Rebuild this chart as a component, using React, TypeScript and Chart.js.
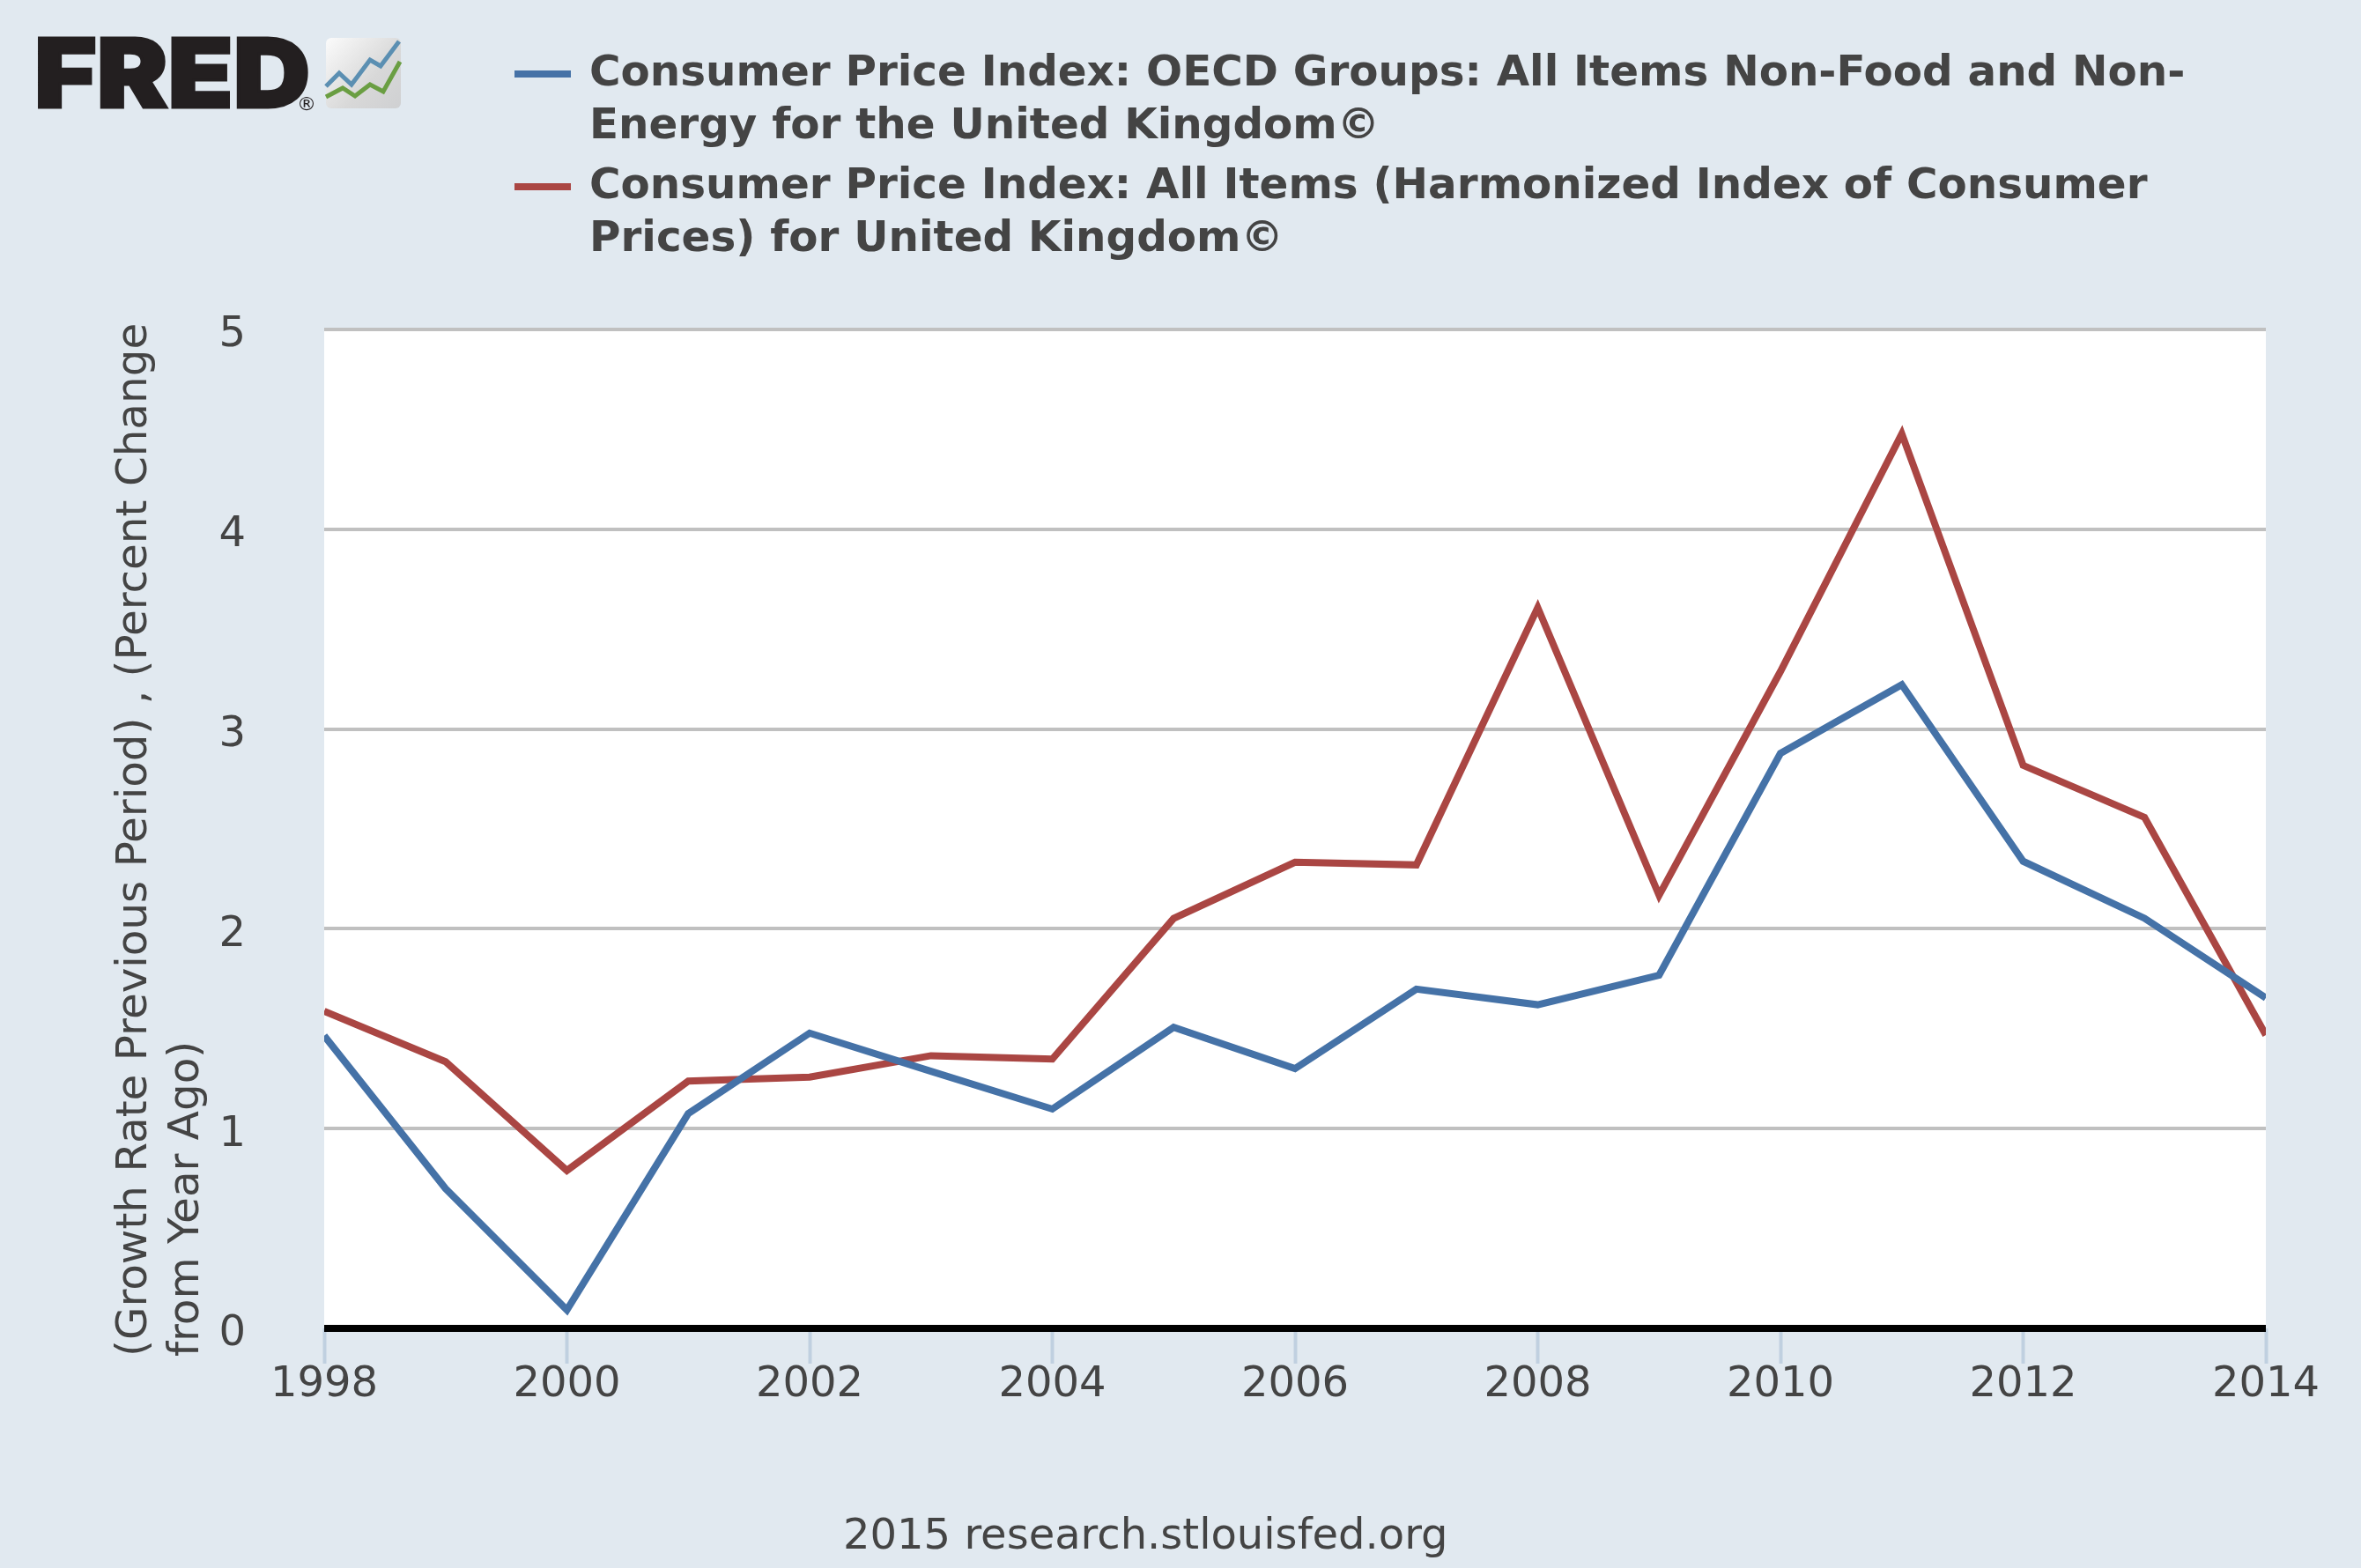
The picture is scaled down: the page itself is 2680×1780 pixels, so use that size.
import React, { useEffect, useRef } from "react";
import { Chart, registerables } from "chart.js";

Chart.register(...registerables);

const years = [1998, 1999, 2000, 2001, 2002, 2003, 2004, 2005, 2006, 2007, 2008, 2009, 2010, 2011, 2012, 2013, 2014];
const coreCpi = [1.465, 0.7, 0.092, 1.075, 1.478, 1.287, 1.098, 1.507, 1.3, 1.698, 1.62, 1.768, 2.878, 3.222, 2.338, 2.053, 1.654];
const hicp = [1.588, 1.335, 0.79, 1.238, 1.258, 1.365, 1.348, 2.052, 2.333, 2.32, 3.608, 2.168, 3.288, 4.478, 2.818, 2.558, 1.468];
const coreLegend = ["Consumer Price Index: OECD Groups: All Items Non-Food and Non-", "Energy for the United Kingdom©"];
const hicpLegend = ["Consumer Price Index: All Items (Harmonized Index of Consumer", "Prices) for United Kingdom©"];
const yTitleLines = ["(Growth Rate Previous Period) , (Percent Change", "from Year Ago)"];
const credit = "2015 research.stlouisfed.org";
const logoText = "FRED";

const BG = "#e1e9f0";
const TEXT = "#444444";
const FONT = "'DejaVu Sans'";

const pagePlugin = {
  id: "page",
  beforeDraw(chart: any) {
    const { ctx, chartArea: a, width, height } = chart;
    ctx.save();
    ctx.fillStyle = BG;
    ctx.fillRect(0, 0, width, height);
    ctx.fillStyle = "#ffffff";
    ctx.fillRect(a.left, a.top, a.right - a.left, a.bottom - a.top);
    ctx.restore();
    // y tick labels sit slightly below their grid lines in the reference
    if (!chart.$labelsShifted) {
      chart.scales.y.getLabelItems().forEach((it: any) => {
        it.options.translation[1] += 7;
      });
      chart.$labelsShifted = true;
    }
  },
  afterDraw(chart: any) {
    const { ctx } = chart;
    ctx.save();
    ctx.textBaseline = "alphabetic";
    ctx.textAlign = "left";

    // legend
    const groups = [
      { lines: coreLegend, color: chart.data.datasets[0].borderColor, key: 84, base: [97, 157] },
      { lines: hicpLegend, color: chart.data.datasets[1].borderColor, key: 212, base: [225, 285] },
    ];
    for (const g of groups) {
      ctx.fillStyle = g.color;
      ctx.fillRect(584, g.key - 4, 64, 8);
      ctx.fillStyle = TEXT;
      ctx.font = `bold 48.4px ${FONT}`;
      g.lines.forEach((t, i) => ctx.fillText(t, 669, g.base[i]));
    }

    // y axis title
    ctx.font = `48.4px ${FONT}`;
    ctx.fillStyle = TEXT;
    yTitleLines.forEach((t, i) => {
      ctx.save();
      ctx.translate(166 + i * 59, 1540);
      ctx.rotate(-Math.PI / 2);
      ctx.fillText(t, 0, 0);
      ctx.restore();
    });

    // credit
    ctx.font = `48px ${FONT}`;
    ctx.fillStyle = TEXT;
    ctx.fillText(credit, 957, 1758);

    // logo
    ctx.fillStyle = "#231f20";
    ctx.strokeStyle = "#231f20";
    ctx.lineWidth = 3;
    ctx.lineJoin = "miter";
    ctx.save();
    ctx.translate(38, 122);
    ctx.scale(1.09, 0.98);
    ctx.font = `900 111px Inter`;
    ctx.fillText(logoText, 1, 0);
    ctx.strokeText(logoText, 1, 0);
    ctx.restore();
    ctx.font = `22px ${FONT}`;
    ctx.fillText("®", 337, 125);
    const grad = ctx.createLinearGradient(370, 43, 455, 123);
    grad.addColorStop(0, "#fbfbfb");
    grad.addColorStop(0.6, "#d8d8d8");
    grad.addColorStop(1, "#cfd0d2");
    ctx.fillStyle = grad;
    ctx.beginPath();
    ctx.roundRect(370, 43, 85, 80, 6);
    ctx.fill();
    ctx.lineWidth = 5;
    ctx.strokeStyle = "#5b8fb2";
    ctx.beginPath();
    ctx.moveTo(370, 98);
    ctx.lineTo(385, 83);
    ctx.lineTo(399, 96);
    ctx.lineTo(420, 68);
    ctx.lineTo(432, 75);
    ctx.lineTo(453, 47);
    ctx.stroke();
    ctx.strokeStyle = "#6a9e42";
    ctx.beginPath();
    ctx.moveTo(370, 110);
    ctx.lineTo(389, 100);
    ctx.lineTo(403, 109);
    ctx.lineTo(420, 96);
    ctx.lineTo(435, 104);
    ctx.lineTo(454, 70);
    ctx.stroke();
    ctx.restore();
  },
};

export default function App() {
  const ref = useRef<HTMLCanvasElement>(null);
  useEffect(() => {
    document.body.style.margin = "0";
    const chart = new Chart(ref.current!, {
      type: "line",
      data: {
        labels: years,
        datasets: [
          {
            label: coreLegend.join(" "),
            data: years.map((y, i) => ({ x: y, y: coreCpi[i] })),
            borderColor: "#4572a7",
            borderWidth: 8,
            pointRadius: 0,
            tension: 0,
          },
          {
            label: hicpLegend.join(" "),
            data: years.map((y, i) => ({ x: y, y: hicp[i] })),
            borderColor: "#aa4643",
            borderWidth: 8,
            pointRadius: 0,
            tension: 0,
          },
        ],
      },
      options: {
        responsive: false,
        animation: false,
        devicePixelRatio: 1,
        layout: { padding: { top: 374, right: 108, left: 0, bottom: 0 } },
        plugins: { legend: { display: false }, title: { display: false }, tooltip: { enabled: false } },
        scales: {
          x: {
            type: "linear",
            min: 1998,
            max: 2014,
            afterFit: (s: any) => { s.height = 272; },
            border: { display: false },
            grid: { drawOnChartArea: false, drawTicks: true, tickLength: 40, tickColor: "#c0d0e0", tickWidth: 4 },
            ticks: {
              stepSize: 2,
              autoSkip: false,
              maxRotation: 0,
              padding: -4,
              color: TEXT,
              font: { family: "DejaVu Sans", size: 48 },
              callback: (v: any) => String(v),
            },
          },
          y: {
            min: 0,
            max: 5,
            afterFit: (s: any) => { s.width = 368; },
            border: { display: false },
            grid: {
              drawTicks: false,
              color: (c: any) => (c.tick && c.tick.value === 0 ? "#000000" : "#c0c0c0"),
              lineWidth: (c: any) => (c.tick && c.tick.value === 0 ? 8 : 4),
            },
            ticks: {
              stepSize: 1,
              padding: 89,
              color: TEXT,
              font: { family: "DejaVu Sans", size: 48 },
            },
          },
        },
      },
      plugins: [pagePlugin],
    } as any);
    return () => chart.destroy();
  }, []);
  return <canvas ref={ref} width={2680} height={1780} style={{ display: "block" }} />;
}
